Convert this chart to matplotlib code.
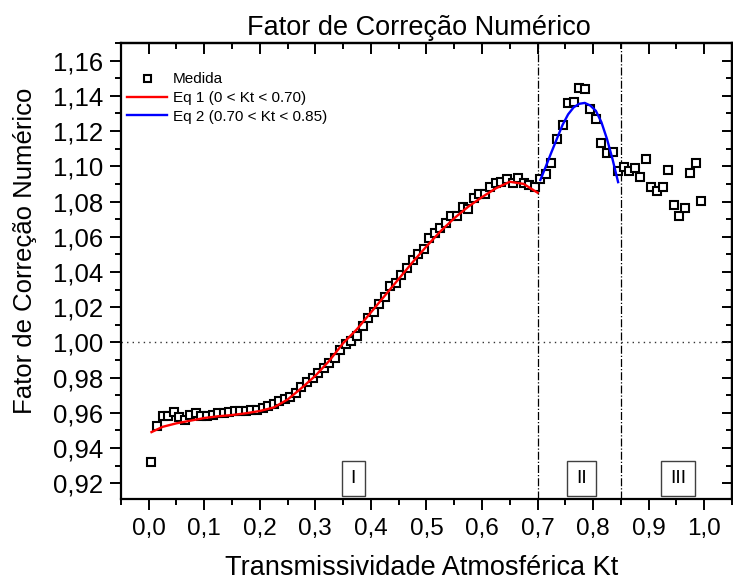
import numpy as np
import matplotlib as mpl; mpl.use('Agg')
import matplotlib.pyplot as plt
from matplotlib.ticker import MultipleLocator, FuncFormatter

mpl.rcParams.update({'font.family': ['Liberation Sans', 'DejaVu Sans'], 'axes.linewidth': 1.6})

# measured correction factor, one value per Kt bin of width 0.01
kt = np.round(np.arange(0.005, 1.0, 0.01), 3)
medida = [0.9320, 0.9525, 0.9580, 0.9580, 0.9607, 0.9576, 0.9557, 0.9586, 0.9597, 0.9580,
          0.9580, 0.9585, 0.9598, 0.9600, 0.9605, 0.9608, 0.9610, 0.9610, 0.9615, 0.9618,
          0.9626, 0.9637, 0.9649, 0.9664, 0.9677, 0.9690, 0.9710, 0.9745, 0.9776, 0.9800,
          0.9823, 0.9854, 0.9880, 0.9909, 0.9957, 0.9991, 1.0010, 1.0038, 1.0090, 1.0139,
          1.0171, 1.0219, 1.0260, 1.0318, 1.0336, 1.0380, 1.0424, 1.0466, 1.0500, 1.0532,
          1.0590, 1.0621, 1.0652, 1.0678, 1.0718, 1.0718, 1.0770, 1.0760, 1.0818, 1.0842,
          1.0842, 1.0884, 1.0903, 1.0912, 1.0926, 1.0907, 1.0935, 1.0903, 1.0893, 1.0884,
          1.0926, 1.0954, 1.1020, 1.1154, 1.1235, 1.1359, 1.1368, 1.1445, 1.1439, 1.1325,
          1.1268, 1.1135, 1.1074, 1.1083, 1.0975, 1.0998, 1.0973, 1.0989, 1.0941, 1.1040,
          1.0884, 1.0859, 1.0884, 1.0979, 1.0779, 1.0717, 1.0764, 1.0960, 1.1020, 1.0802]

# fitted curves
eq1_x = [0.005, 0.025, 0.05, 0.075, 0.10, 0.125, 0.15, 0.175, 0.20, 0.225, 0.25, 0.275, 0.30,
         0.325, 0.35, 0.375, 0.40, 0.425, 0.45, 0.475, 0.50, 0.525, 0.55, 0.575, 0.60, 0.625,
         0.65, 0.675, 0.70]
eq1_y = [0.9490, 0.9520, 0.9540, 0.9555, 0.9570, 0.9580, 0.9587, 0.9597, 0.9610, 0.9630,
         0.9675, 0.9740, 0.9810, 0.9895, 0.9995, 1.0075, 1.0170, 1.0265, 1.0360, 1.0455,
         1.0545, 1.0630, 1.0705, 1.0770, 1.0825, 1.0875, 1.0912, 1.0900, 1.0850]
eq2_x = [0.705, 0.715, 0.725, 0.735, 0.745, 0.755, 0.765, 0.775, 0.785, 0.795, 0.805, 0.815,
         0.825, 0.835, 0.845]
eq2_y = [1.0922, 1.1000, 1.1080, 1.1158, 1.1235, 1.1295, 1.1335, 1.1355, 1.1360, 1.1345,
         1.1315, 1.1250, 1.1155, 1.1040, 1.0910]

limites = [0.70, 0.85]
regioes = ['I', 'II', 'III']
regioes_x = [0.368, 0.779, 0.953]

fig = plt.figure(figsize=(7.33, 5.82), dpi=100)
ax = fig.add_axes([0.165, 0.1426, 0.8336, 0.7834])

ax.axhline(1.0, color='0.2', lw=1.0, ls=(0, (1, 3)), zorder=1)
for v in limites:
    ax.axvline(v, color='k', lw=0.9, ls='-.', zorder=1)

ax.plot(kt, medida, 's', ms=5.6, mfc='white', mec='k', mew=1.5, label='Medida', zorder=3)
ax.plot(eq1_x, eq1_y, '-', color='#ff0000', lw=1.7, label='Eq 1 (0 < Kt < 0.70)', zorder=4)
ax.plot(eq2_x, eq2_y, '-', color='#0000ff', lw=1.7, label='Eq 2 (0.70 < Kt < 0.85)', zorder=4)

for s, x in zip(regioes, regioes_x):
    ax.text(x, 0.9226, s, ha='center', va='center', fontsize=14,
            bbox=dict(boxstyle='square,pad=0.45', fc='white', ec='0.25', lw=1.0))

ax.set_xlim(-0.05, 1.05)
ax.set_ylim(0.911, 1.170)
ax.xaxis.set_major_locator(MultipleLocator(0.1)); ax.xaxis.set_minor_locator(MultipleLocator(0.05))
ax.yaxis.set_major_locator(MultipleLocator(0.02)); ax.yaxis.set_minor_locator(MultipleLocator(0.01))
ax.xaxis.set_major_formatter(FuncFormatter(lambda v, p: f'{v:.1f}'.replace('.', ',')))
ax.yaxis.set_major_formatter(FuncFormatter(lambda v, p: f'{v:.2f}'.replace('.', ',')))
ax.tick_params(axis='both', which='major', length=8, width=1.4, direction='out')
ax.tick_params(axis='both', which='minor', length=4.5, width=1.4, direction='out')
ax.tick_params(axis='x', labelsize=17.5, pad=6)
ax.tick_params(axis='y', labelsize=18.5, pad=5)

# top and right mirror ticks point inward
axt = ax.secondary_xaxis('top'); axt.xaxis.set_major_locator(MultipleLocator(0.1))
axt.xaxis.set_minor_locator(MultipleLocator(0.05))
axt.tick_params(which='major', direction='in', length=8, width=1.4, labeltop=False)
axt.tick_params(which='minor', direction='in', length=4.5, width=1.4)
axr = ax.secondary_yaxis('right'); axr.yaxis.set_major_locator(MultipleLocator(0.02))
axr.yaxis.set_minor_locator(MultipleLocator(0.01))
axr.tick_params(which='major', direction='in', length=7, width=1.4, labelright=False)
axr.tick_params(which='minor', direction='in', length=4.5, width=1.4)

fig.text(0.5757, 0.012, 'Transmissividade Atmosférica Kt', ha='center', va='baseline', fontsize=19.5)
ax.set_ylabel('Fator de Correção Numérico', fontsize=18.5)
ax.yaxis.set_label_coords(-0.137, 0.544)
fig.text(0.5716, 0.940, 'Fator de Correção Numérico', ha='center', va='baseline', fontsize=19.5)

ax.legend(loc='upper left', bbox_to_anchor=(-0.008, 0.959), frameon=False, fontsize=11,
          handlelength=2.65, handletextpad=0.35, labelspacing=0.3, borderaxespad=0.3,
          markerscale=0.9)

fig.savefig('out.png', dpi=100)
